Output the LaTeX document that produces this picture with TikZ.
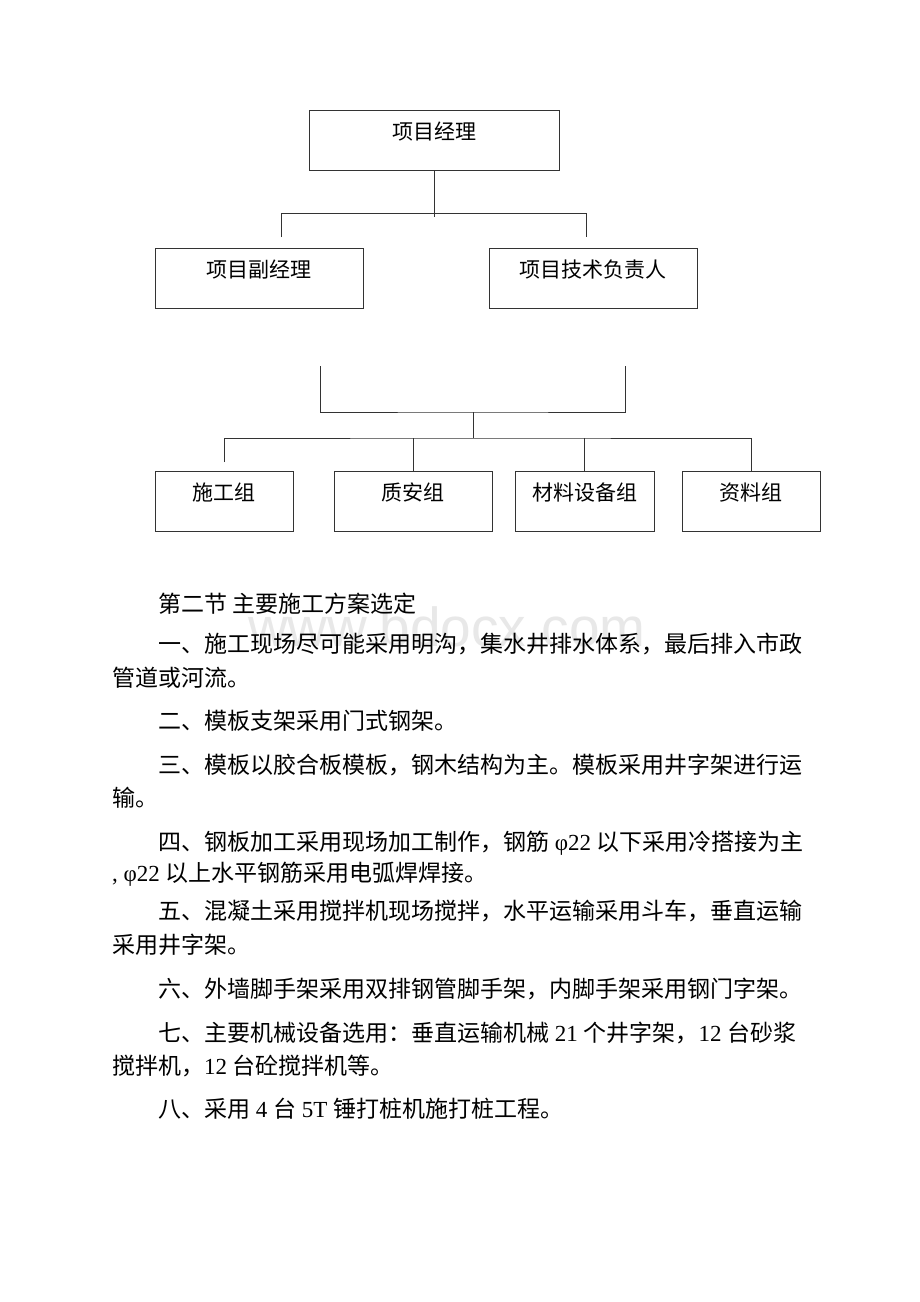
\documentclass[tikz,border=0pt]{standalone}
\usepackage{fontspec}
\setmainfont{Noto Sans CJK SC}
\newfontfamily\latfont{Liberation Serif}
\newfontfamily\wmfont{Liberation Sans}
\newcommand{\lat}[1]{{\latfont #1}}

\begin{document}
\begin{tikzpicture}[x=1pt,y=-1pt,
    orgbox/.style={draw=black!80, line width=0.8pt, inner sep=0pt, minimum width=#1,
      text height=29pt, text depth=31pt, anchor=north, font=\fontsize{21}{21}\selectfont},
    conn/.style={draw=black!80, line width=0.8pt},
    bodyline/.style={anchor=base west, inner sep=0pt, font=\fontsize{23}{23}\selectfont}]
   \fill[white] (0,0) rectangle (920,1302);
   \useasboundingbox (0,0) rectangle (920,1302);

   \node[orgbox=250] (pm) at (434,110) {项目经理};
   \node[orgbox=208] (dpm) at (259,248) {项目副经理};
   \node[orgbox=208] (tech) at (593,248) {项目技术负责人};

   \node[orgbox=138] (g1) at (224,471) {施工组};
   \node[orgbox=158] (g2) at (413,471) {质安组};
   \node[orgbox=139] (g3) at (584.5,471) {材料设备组};
   \node[orgbox=138] (g4) at (751,471) {资料组};

   \coordinate (pmEnd) at (434,217);
   \coordinate (dpmTop) at (281,237);
   \coordinate (techTop) at (586,237);
   \draw[conn] (pm.south) -- (pmEnd);
   \draw[conn] (dpmTop) -- ++(0,-24) -| (techTop);

   \coordinate (brL) at (320,366);
   \coordinate (brR) at (625,366);
   \coordinate (brMid) at (473,412);
   \coordinate (busMid) at (473,438);
   \coordinate (g1Top) at (224,462);
   \draw[conn] (brL) |- (brMid) -| (brR);
   \draw[conn] (brMid) -- (busMid);
   \draw[conn] (g1Top) |- (busMid) -| (g4.north);
   \draw[conn] (g2.north) -- (g2.north |- busMid);
   \draw[conn] (g3.north) -- (g3.north |- busMid);

   \node[font=\wmfont\fontsize{55}{55}\selectfont, text=black!9, anchor=base west, inner sep=0pt]
     (wm) at (248,646) {www.bdocx.com};

   \node[bodyline] (s0) at (158,612) {第二节 主要施工方案选定};
   \node[bodyline] (p1a) at (158,652) {一、施工现场尽可能采用明沟，集水井排水体系，最后排入市政};
   \node[bodyline] (p1b) at (112,686) {管道或河流。};
   \node[bodyline] (p2) at (158,729) {二、模板支架采用门式钢架。};
   \node[bodyline] (p3a) at (158,773) {三、模板以胶合板模板，钢木结构为主。模板采用井字架进行运};
   \node[bodyline] (p3b) at (112,806) {输。};
   \node[bodyline] (p4a) at (158,850) {四、钢板加工采用现场加工制作，钢筋\lat{ φ22 }以下采用冷搭接为主};
   \node[bodyline] (p4b) at (112,881) {\lat{, φ22 }以上水平钢筋采用电弧焊焊接。};
   \node[bodyline] (p5a) at (158,919) {五、混凝土采用搅拌机现场搅拌，水平运输采用斗车，垂直运输};
   \node[bodyline] (p5b) at (112,953) {采用井字架。};
   \node[bodyline] (p6) at (158,997) {六、外墙脚手架采用双排钢管脚手架，内脚手架采用钢门字架。};
   \node[bodyline] (p7a) at (158,1041) {七、主要机械设备选用：垂直运输机械\lat{ 21 }个井字架，\lat{12 }台砂浆};
   \node[bodyline] (p7b) at (112,1074) {搅拌机，\lat{12 }台砼搅拌机等。};
   \node[bodyline] (p8) at (158,1117) {八、采用\lat{ 4 }台\lat{ 5T }锤打桩机施打桩工程。};
  \end{tikzpicture}
\end{document}
